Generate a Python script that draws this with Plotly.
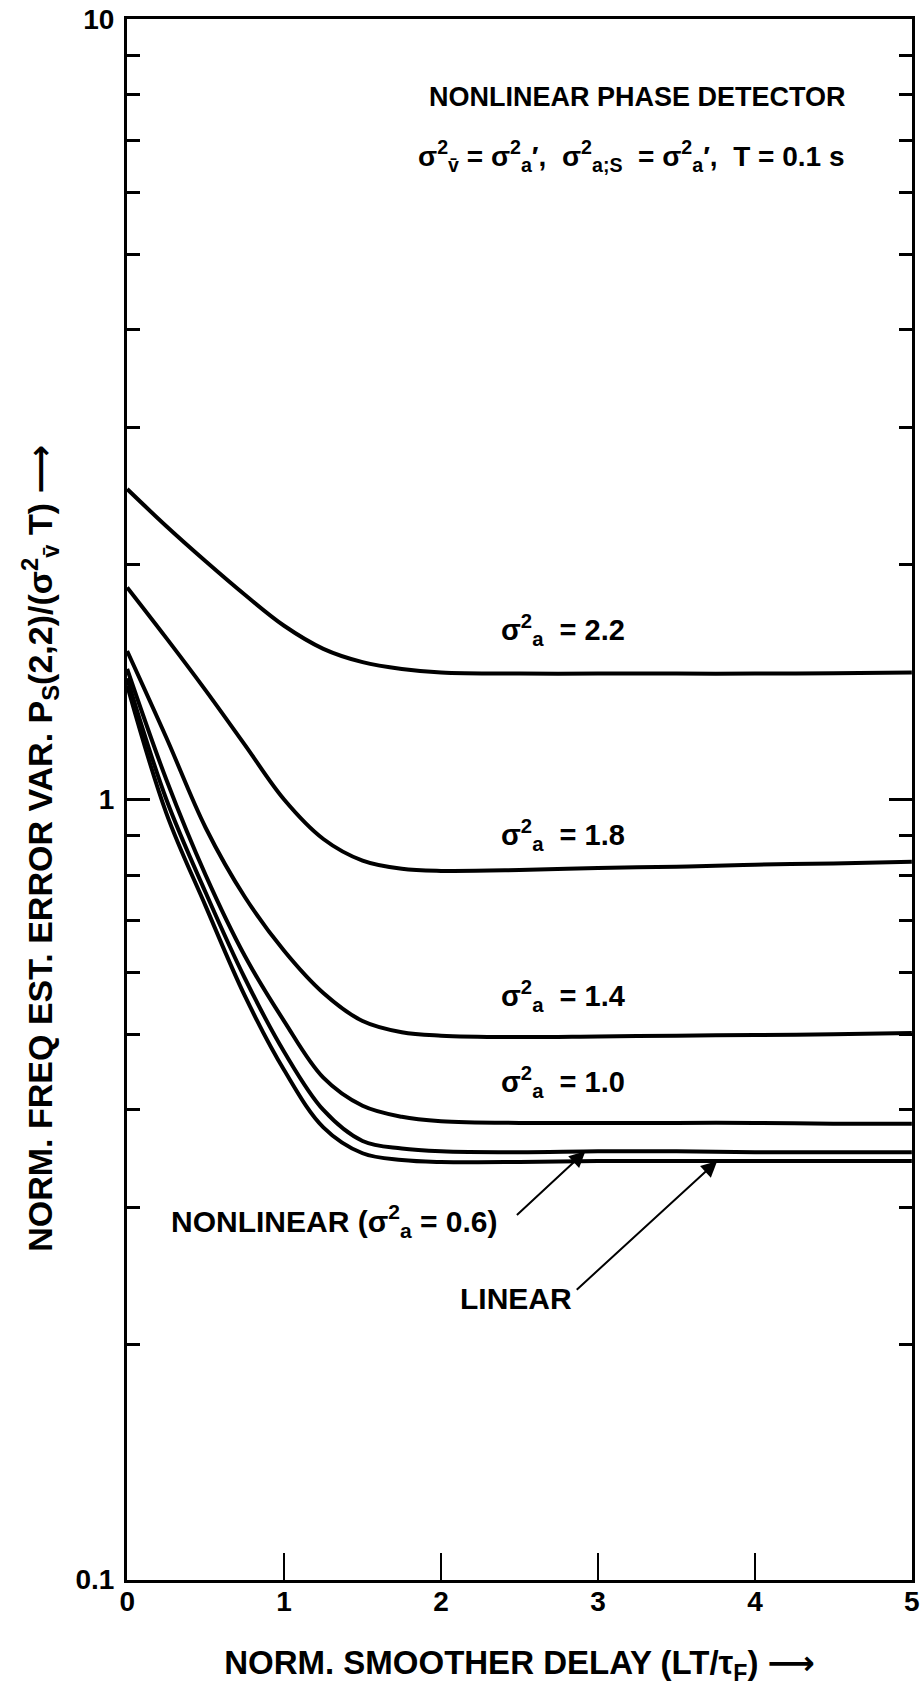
import math
import plotly.graph_objects as go

# Normalized smoother delay LT/tau_F
delay = [0, 0.25, 0.5, 0.75, 1.0, 1.25, 1.5, 1.75, 2.0, 2.5, 3.0, 3.5, 4.0, 4.5, 5.0]

# Normalized frequency-estimate error variance for each acceleration variance
var_22 = [2.50, 2.24, 2.02, 1.83, 1.67, 1.56, 1.50, 1.47, 1.455, 1.45, 1.45, 1.45, 1.45, 1.452, 1.455]
var_18 = [1.87, 1.61, 1.38, 1.175, 1.00, 0.89, 0.835, 0.815, 0.81, 0.812, 0.817, 0.82, 0.825, 0.828, 0.832]
var_14 = [1.55, 1.20, 0.92, 0.75, 0.64, 0.565, 0.52, 0.503, 0.498, 0.496, 0.497, 0.498, 0.499, 0.500, 0.502]
var_10 = [1.47, 1.06, 0.80, 0.63, 0.52, 0.44, 0.405, 0.392, 0.387, 0.385, 0.385, 0.385, 0.385, 0.384, 0.384]
var_06 = [1.43, 1.00, 0.76, 0.59, 0.475, 0.40, 0.365, 0.357, 0.354, 0.353, 0.354, 0.354, 0.353, 0.353, 0.353]
var_lin = [1.40, 0.96, 0.73, 0.56, 0.45, 0.38, 0.352, 0.345, 0.343, 0.343, 0.344, 0.344, 0.344, 0.344, 0.344]

series = [var_22, var_18, var_14, var_10, var_06, var_lin]

x_ticks = [0, 1, 2, 3, 4, 5]
y_ticks = [0.1, 1, 10]
y_tick_text = ["0.1", "1", "10"]
y_minor = [0.2, 0.3, 0.4, 0.5, 0.6, 0.7, 0.8, 0.9, 2, 3, 4, 5, 6, 7, 8, 9]

FONT = "Liberation Sans, DejaVu Sans, sans-serif"
SIG = "σ<sup>2</sup><sub>a</sub>"


def txt_font(size):
    return dict(size=size, color="black", family=FONT, weight="bold")


fig = go.Figure()
for ys in series:
    fig.add_trace(go.Scatter(x=delay, y=ys, mode="lines",
                             line=dict(color="black", width=4, shape="spline", smoothing=1.0),
                             showlegend=False, hoverinfo="skip"))

# curve labels (annotation y on a log axis is given as log10 of the value)
label_x = 2.78
for txt, yv in [(SIG + "  = 2.2", 1.647), (SIG + "  = 1.8", 0.90),
                (SIG + "  = 1.4", 0.56), (SIG + "  = 1.0", 0.434)]:
    fig.add_annotation(x=label_x, y=math.log10(yv), text=txt, showarrow=False,
                       font=txt_font(29))

fig.add_annotation(xref="paper", yref="paper", x=0.919, y=0.95, xanchor="right",
                   yanchor="middle", text="NONLINEAR PHASE DETECTOR", showarrow=False,
                   font=txt_font(27))
fig.add_annotation(xref="paper", yref="paper", x=0.916, y=0.912, xanchor="right",
                   yanchor="middle",
                   text="σ<sup>2</sup><sub>v̄</sub> = " + SIG + "′,  σ<sup>2</sup><sub>a;S</sub>  = "
                        + SIG + "′,  T = 0.1 s",
                   showarrow=False, font=txt_font(28))

fig.add_annotation(x=1.318, y=math.log10(0.288), text="NONLINEAR (" + SIG + " = 0.6)",
                   showarrow=False, font=txt_font(30))
fig.add_annotation(x=2.478, y=math.log10(0.2295), text="LINEAR", showarrow=False,
                   font=txt_font(30))

# pointer arrows to the two lowest curves
fig.add_annotation(x=2.92, y=math.log10(var_06[10]), text="", showarrow=True, arrowhead=2,
                   arrowsize=1.6, arrowwidth=2, arrowcolor="black", ax=-70, ay=65)
fig.add_annotation(x=3.76, y=math.log10(var_lin[12]), text="", showarrow=True, arrowhead=2,
                   arrowsize=1.6, arrowwidth=2, arrowcolor="black", ax=-142, ay=130)

# rotated y-axis title
fig.add_annotation(xref="paper", yref="paper", x=-0.111, y=0.469, xanchor="center",
                   yanchor="middle", textangle=-90,
                   text="NORM. FREQ EST. ERROR VAR. P<sub>S</sub>(2,2)/(σ<sup>2</sup><sub>v̄</sub> T) ⟶",
                   showarrow=False, font=txt_font(34))

fig.update_layout(
    width=924, height=1698,
    margin=dict(l=127, r=4, t=13, b=118),
    paper_bgcolor="white", plot_bgcolor="white",
    font=dict(family=FONT, color="black", size=27, weight="bold"),
    xaxis=dict(range=[-0.001, 5.001], tickvals=x_ticks, ticks="inside", ticklen=27, tickwidth=2,
               tickcolor="black", showline=True, linewidth=3, linecolor="black",
               mirror=True, showgrid=False, zeroline=False, ticklabelstandoff=-6,
               ticklabeloverflow="allow", tickfont=txt_font(28),
               title=dict(text="NORM. SMOOTHER DELAY (LT/τ<sub>F</sub>) ⟶", standoff=36,
                          font=txt_font(33))),
    yaxis=dict(type="log", range=[-1.0005, 1.0005], tickvals=y_ticks, ticktext=y_tick_text,
               ticks="inside", ticklen=23, tickwidth=3, tickcolor="black",
               showline=True, linewidth=3, linecolor="black", mirror="allticks",
               showgrid=False, zeroline=False, ticklabelstandoff=4,
               ticklabeloverflow="allow", tickfont=txt_font(28),
               minor=dict(tickvals=y_minor, ticks="inside", ticklen=13, tickwidth=3,
                          tickcolor="black", showgrid=False)),
)

fig.write_html("out.html")
